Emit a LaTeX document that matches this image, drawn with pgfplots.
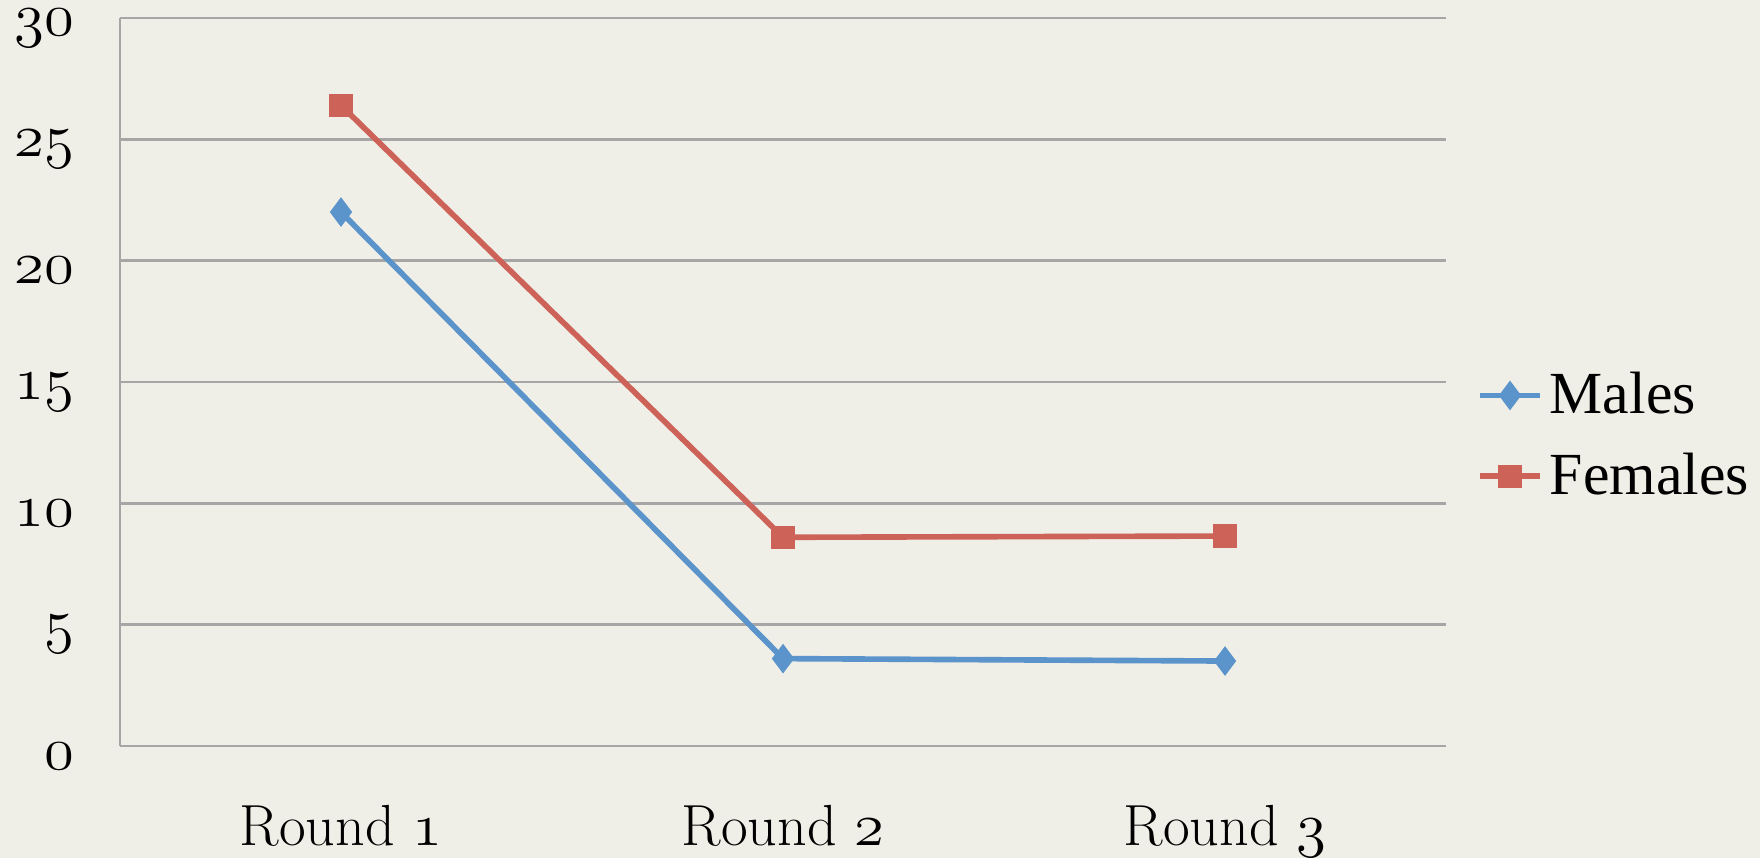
\documentclass[border=0pt]{standalone}
\usepackage{pgfplots}
\pgfplotsset{compat=1.18}
\usepackage{fontspec}
\usetikzlibrary{backgrounds}
\newfontfamily\legendfont{Liberation Serif}
\newcommand\osn[1]{{\fontencoding{OML}\fontfamily{cmm}\fontseries{m}\fontshape{it}\selectfont #1}}
\definecolor{bgc}{HTML}{F0EFE7}
\definecolor{gridc}{HTML}{A6A6A6}
\definecolor{males}{HTML}{5B93CB}
\definecolor{females}{HTML}{CD6258}
\begin{document}
\begin{tikzpicture}
\begin{axis}[
  scale only axis,
  width=132.6mm, height=72.8mm,
  xmin=-0.5, xmax=2.5, ymin=0, ymax=30,
  xtick={0,1,2},
  xticklabels={Round \osn{1}, Round \osn{2}, Round \osn{3}},
  ytick={0,5,...,30},
  yticklabel={\osn{\pgfmathprintnumber[assume math mode=true]{\tick}}},
  axis x line*=bottom, axis y line*=left,
  axis line style={gridc, line width=0.8pt, -},
  major tick length=0pt,
  ymajorgrids, grid style={gridc, line width=0.8pt},
  tick label style={font=\fontsize{16.5}{20}\selectfont},
  xticklabel style={yshift=-4.7mm},
  yticklabel style={inner sep=0pt, xshift=-4.5mm, yshift=-1.0mm},
  clip=false,
  legend style={draw=none, fill=none, at={(1.023,0.426)}, anchor=west,
    inner sep=0pt, row sep=2mm, font=\legendfont\fontsize{17}{20}\selectfont},
  legend cell align=left,
]
\addplot[males, line width=1.6pt, mark=diamond*, mark size=2.9pt]
  coordinates {(0,22.0) (1,3.6) (2,3.5)};
\addplot[females, line width=1.6pt, mark=square*, mark size=2.5pt]
  coordinates {(0,26.4) (1,8.6) (2,8.65)};
\legend{Males, Females}
\coordinate (bbsw) at (rel axis cs:-0.0905,-0.1538);
\coordinate (bbne) at (rel axis cs:1.2368,1.0247);
\end{axis}
\pgfresetboundingbox
\path (bbsw) rectangle (bbne);
\begin{scope}[on background layer]
\fill[bgc] (bbsw) rectangle (bbne);
\end{scope}
\end{tikzpicture}
\end{document}
